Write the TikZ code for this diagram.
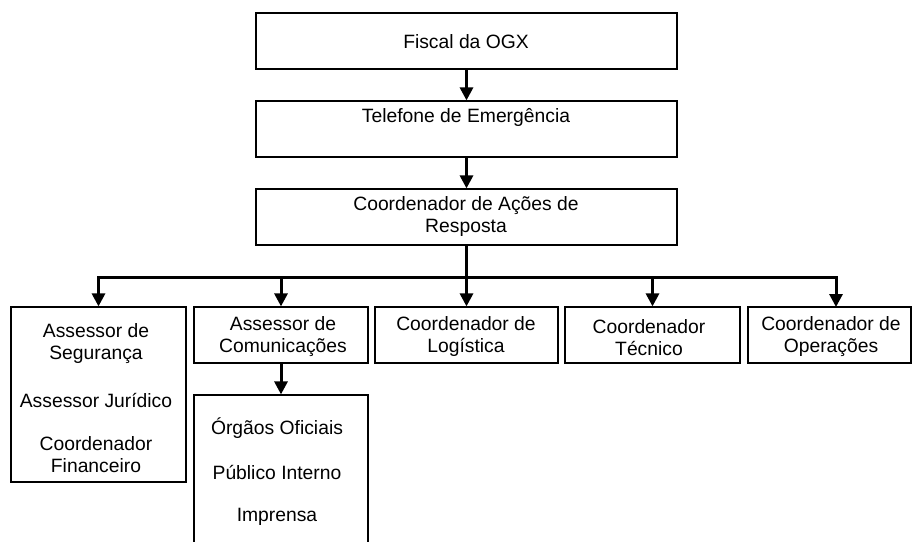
\documentclass[tikz,border=0pt]{standalone}
\usepackage{fontspec}
\setmainfont{Liberation Sans}
\usetikzlibrary{arrows.meta}
\begin{document}
\begin{tikzpicture}[x=1pt,y=-1pt,
  box/.style={draw, line width=1.2pt, inner sep=0pt},
  lbl/.style={inner sep=0pt, align=center, font=\fontsize{19.3}{22}\selectfont},
  conn/.style={line width=3pt, -{Triangle[length=13pt,width=13pt]}},
  bar/.style={line width=3pt}]
\clip (0,0) rectangle (912,541);
\fill[white] (0,0) rectangle (912,541);
% boxes
\node[box, minimum width=421pt, minimum height=56pt] (fiscal) at (466.5,41) {};
\node[box, minimum width=421pt, minimum height=56pt] (tel) at (466.5,129) {};
\node[box, minimum width=421pt, minimum height=56pt] (coord) at (466.5,217) {};
\node[box, minimum width=175pt, minimum height=175pt] (A) at (98.5,394.5) {};
\node[box, minimum width=174pt, minimum height=56pt] (B) at (281,335) {};
\node[box, minimum width=183pt, minimum height=56pt] (C) at (466.5,335) {};
\node[box, minimum width=175pt, minimum height=56pt] (D) at (652.5,335) {};
\node[box, minimum width=163pt, minimum height=56pt] (E) at (829.5,335) {};
\node[box, minimum width=174pt, minimum height=165pt] (F) at (281,477.5) {};
% texts
\node[lbl] (tFiscal) at (466,42) {Fiscal da OGX};
\node[lbl] (tTel) at (466,117) {Telefone de Emergência};
\node[lbl] (tCoord) at (466,217) {Coordenador de Ações de\\Resposta};
\node[lbl] (tA1) at (96,344) {Assessor de\\Segurança};
\node[lbl] (tA2) at (96,400) {Assessor Jurídico};
\node[lbl] (tA3) at (96,454.5) {Coordenador\\Financeiro};
\node[lbl] (tB) at (283,336.5) {Assessor de\\Comunicações};
\node[lbl] (tC) at (466,337) {Coordenador de\\Logística};
\node[lbl] (tD) at (649,338) {Coordenador\\Técnico};
\node[lbl] (tE) at (831,337) {Coordenador de\\Operações};
\node[lbl] (tF1) at (277,428) {Órgãos Oficiais};
\node[lbl] (tF2) at (277,472) {Público Interno};
\node[lbl] (tF3) at (277,517) {Imprensa};
% connectors
\coordinate (hub) at (466.5,277);
\coordinate (eIn) at (836,307);
\draw[conn] (fiscal) -- (tel);
\draw[conn] (tel) -- (coord);
\draw[conn] (coord) -- (C);
\draw[conn] (hub) -| (A.north);
\draw[conn] (hub) -| (B.north);
\draw[conn] (hub) -| (D.north);
\draw[conn] (hub) -| (eIn);
\draw[conn] (B) -- (F);
\end{tikzpicture}
\end{document}
